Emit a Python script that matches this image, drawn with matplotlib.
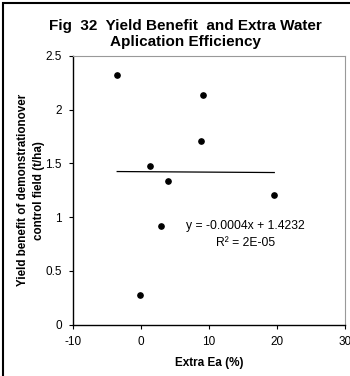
import matplotlib
matplotlib.use("Agg")
import matplotlib.pyplot as plt
from matplotlib.patches import Rectangle
import numpy as np

plt.rcParams['font.family'] = ['Liberation Sans', 'DejaVu Sans']
plt.rcParams['axes.unicode_minus'] = False

# values
extra_ea = [-3.5, -0.2, 1.3, 3.0, 4.0, 8.8, 9.1, 19.6]
yield_benefit = [2.32, 0.28, 1.48, 0.92, 1.34, 1.71, 2.14, 1.21]
slope = -0.0004
intercept = 1.4232
x_ticks = [-10, 0, 10, 20, 30]
y_ticks = [0, 0.5, 1, 1.5, 2, 2.5]

fig = plt.figure(figsize=(3.5, 3.76), dpi=100)
ax = fig.add_axes([73/350, 1-324.6/376, (345-73)/350, (324.6-56)/376])

ax.plot(extra_ea, yield_benefit, 'o', color='black', markersize=3.8)
xf = np.array([min(extra_ea), max(extra_ea)])
ax.plot(xf, slope*xf + intercept, '-', color='black', linewidth=0.9)

ax.set_xlim(-10, 30)
ax.set_ylim(0, 2.5)
ax.set_xticks(x_ticks)
ax.set_yticks(y_ticks)
ax.set_yticklabels(['0', '0.5', '1', '1.5', '2', '2.5'])
ax.tick_params(labelsize=8.5, length=3, width=0.8, direction='out', pad=5)
ax.spines['top'].set_color('#999999')
ax.spines['right'].set_color('#999999')
for s in ['left', 'bottom']:
    ax.spines[s].set_linewidth(1.0)

ax.text(15.4, 0.92, 'y = -0.0004x + 1.4232', fontsize=8.7, ha='center', va='center')
ax.text(15.4, 0.76, 'R² = 2E-05', fontsize=8.7, ha='center', va='center')

ax.set_xlabel('Extra Ea (%)', fontsize=8.5, fontweight='bold', labelpad=7)
ax.set_ylabel('Yield benefit of demonstrationover\ncontrol field (t/ha)',
              fontsize=8.4, fontweight='bold', labelpad=0, linespacing=1.45)

fig.text(185/350, 1-34/376, 'Fig  32  Yield Benefit  and Extra Water\nAplication Efficiency',
         fontsize=11, fontweight='bold', ha='center', va='center', linespacing=1.1)

fig.patches.append(Rectangle((3/350, -0.1), 1.2, 1-3/376+0.1, transform=fig.transFigure,
                             fill=False, edgecolor='black', linewidth=1.5))

fig.savefig('out.png', dpi=100)
